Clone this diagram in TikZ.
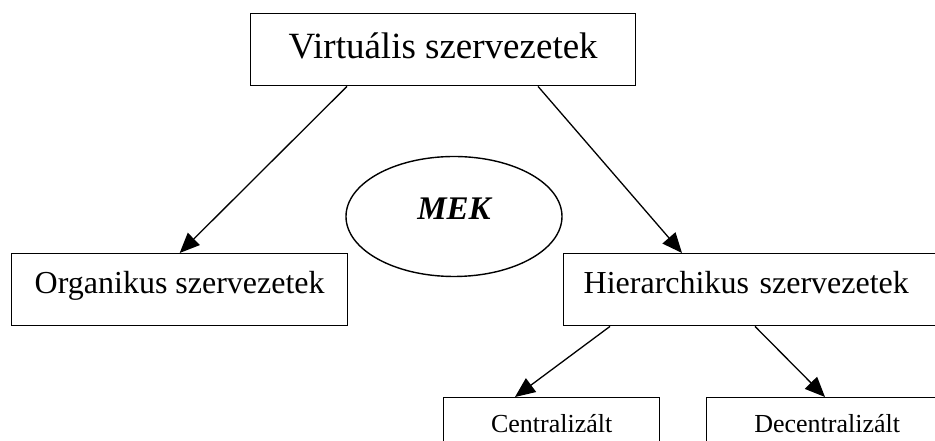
\documentclass[tikz,border=0pt]{standalone}
\usepackage{fontspec}
\setmainfont{Liberation Serif}
\usetikzlibrary{arrows.meta,positioning,shapes.geometric}

\begin{document}
\begin{tikzpicture}[
        x=1pt, y=1pt,
        >={Triangle[length=20pt,width=17pt]},
        % Block styles
        orgbox/.style={
            rectangle,
            draw=black,
            line width=1.4pt,
            anchor=north west,
            inner xsep=0pt,
            inner ysep=0pt,
            align=center
        },
        mekoval/.style={
            ellipse,
            draw=black,
            line width=1.4pt,
            inner sep=0pt,
            minimum width=216pt,
            minimum height=120pt,
            text height=22pt,
            text depth=15pt,
            font=\fontsize{33}{39}\selectfont\bfseries\itshape
        },
        bigfont/.style={font=\fontsize{37}{44}\selectfont},
        midfont/.style={font=\fontsize{32}{38}\selectfont},
        smallfont/.style={font=\fontsize{26}{31}\selectfont},
        arrow/.style={->, line width=1.3pt}
    ]
    \useasboundingbox (0,0) rectangle (935,441);

    % Top
    \node[orgbox, bigfont, minimum width=385pt, text height=45pt, text depth=27pt] (virt) at (250,428) {Virtuális szervezetek};

    % Middle row
    \node[orgbox, midfont, minimum width=336pt, text height=40pt, text depth=32pt] (org) at (11,188) {Organikus szervezetek};
    \node[orgbox, midfont, text width=380pt, inner xsep=20pt, align=left, text height=40pt, text depth=32pt] (hier) at (563,188) {Hierarchikus szervezetek};
    \node[mekoval] (mek) at (454,224.5) {MEK};

    % Bottom row
    \node[orgbox, smallfont, minimum width=216pt, text height=35pt, text depth=20pt] (cent) at (443,44) {Centralizált};
    \node[orgbox, smallfont, minimum width=241pt, text height=35pt, text depth=20pt] (decent) at (706,44) {Decentralizált};

    % Connections
    \draw[arrow] ([xshift=97pt]virt.south west) -- (org.north);
    \draw[arrow] ([xshift=288pt]virt.south west) -- ([xshift=119pt]hier.north west);
    \draw[arrow] ([xshift=47pt]hier.south west) -- ([xshift=72pt]cent.north west);
    \draw[arrow] ([xshift=192pt]hier.south west) -- ([xshift=119pt]decent.north west);

\end{tikzpicture}
\end{document}
